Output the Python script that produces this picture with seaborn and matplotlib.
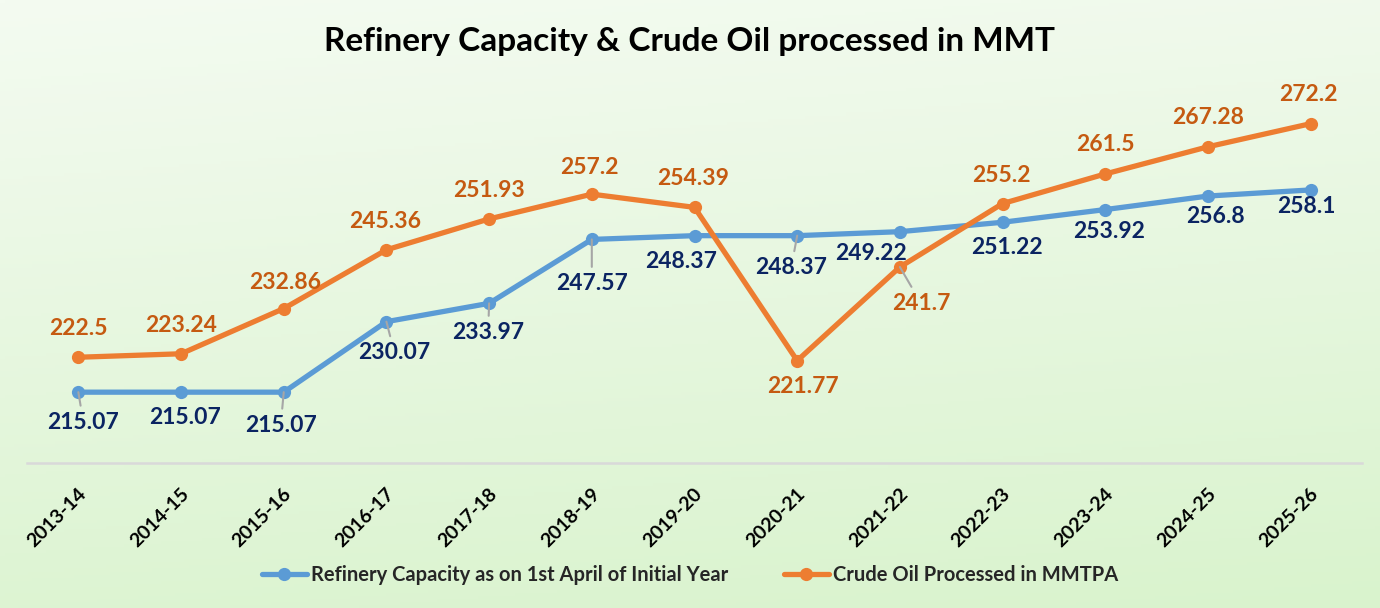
import matplotlib
matplotlib.use('Agg')
from matplotlib import pyplot as plt
from matplotlib.transforms import ScaledTranslation
import numpy as np
import pandas as pd
import seaborn as sns

years = ['2013-14', '2014-15', '2015-16', '2016-17', '2017-18', '2018-19', '2019-20',
         '2020-21', '2021-22', '2022-23', '2023-24', '2024-25', '2025-26']
capacity = [215.07, 215.07, 215.07, 230.07, 233.97, 247.57, 248.37,
            248.37, 249.22, 251.22, 253.92, 256.8, 258.1]
crude = [222.5, 223.24, 232.86, 245.36, 251.93, 257.2, 254.39,
         221.77, 241.7, 255.2, 261.5, 267.28, 272.2]
capacity_name = 'Refinery Capacity as on 1st April of Initial Year'
crude_name = 'Crude Oil Processed in MMTPA'

# label offsets in pixels (dx, dy; dy up is positive), and which labels get a leader line
cap_off = [(5, -30), (4, -25), (-3, -33), (8, -31), (-1, -29), (0, -44), (-13, -26),
           (-6, -32), (-29, -22), (4, -25), (4, -22), (7, -20), (-4, -17)]
cap_leader = [0, 2, 3, 4, 5, 7]
crude_off = [(0, 29), (0, 28), (1, 26), (-1, 28), (0, 28), (-2, 27), (-1, 29),
             (6, -26), (21, -36), (-1, 28), (0, 29), (0, 29), (-2, 29)]
crude_leader = [8]

BLUE = '#5B9BD5'
ORANGE = '#ED7D31'
BLUE_TXT = '#0B2462'
ORANGE_TXT = '#C55A11'

sns.set_style('white')
plt.rcParams['font.family'] = ['Lato', 'DejaVu Sans']
plt.rcParams['font.weight'] = 'bold'

fig = plt.figure(figsize=(13.8, 6.08), dpi=100)

# gradient background
bg = fig.add_axes([0, 0, 1, 1])
bg.set_zorder(0)
h, w = 200, 300
yy, xx = np.mgrid[0:1:complex(0, h), 0:1:complex(0, w)]
t = np.clip(0.85 * yy + 0.15 * xx, 0, 1)[..., None]
top = np.array([244, 251, 241]) / 255
bot = np.array([217, 243, 205]) / 255
bg.imshow(top * (1 - t) + bot * t, aspect='auto', extent=[0, 1, 0, 1])
bg.axis('off')

ax = fig.add_axes([27 / 1380, 1 - 463 / 608, (1362 - 27) / 1380, (463 - 87) / 608])
ax.set_zorder(1)
ax.patch.set_alpha(0)

df = pd.DataFrame({'year': years, 'capacity': capacity, 'crude': crude})
sns.lineplot(data=df, x='year', y='capacity', ax=ax, color=BLUE, lw=3.8, marker='o',
             markersize=9.5, markeredgewidth=0, label=capacity_name, sort=False)
sns.lineplot(data=df, x='year', y='crude', ax=ax, color=ORANGE, lw=3.8, marker='o',
             markersize=9.5, markeredgewidth=0, label=crude_name, sort=False)

ax.set_xlim(-0.5, len(years) - 0.5)
ax.set_ylim(200, 280)


def add_labels(vals, offs, leaders, color):
    for i, v in enumerate(vals):
        arrow = None
        if i in leaders:
            arrow = dict(arrowstyle='-', color='#A6A6A6', lw=1.5, shrinkA=2, shrinkB=0)
        ax.annotate('{:g}'.format(v), xy=(i, v), xytext=offs[i], textcoords='offset pixels',
                    ha='center', va='center', fontsize=16.5, fontweight='bold', color=color,
                    arrowprops=arrow, zorder=5)


add_labels(capacity, cap_off, cap_leader, BLUE_TXT)
add_labels(crude, crude_off, crude_leader, ORANGE_TXT)

ax.set_xlabel('')
ax.set_ylabel('')
ax.set_yticks([])
ax.set_xticks(range(len(years)))
ax.set_xticklabels(years, rotation=45, ha='right', va='center', rotation_mode='anchor',
                   fontsize=14, fontweight='bold', color='black')
ax.tick_params(axis='x', length=0, pad=20)
for lab in ax.get_xticklabels():
    lab.set_transform(lab.get_transform() + ScaledTranslation(0.05, 0, fig.dpi_scale_trans))
for s in ['top', 'left', 'right']:
    ax.spines[s].set_visible(False)
ax.spines['bottom'].set_color('#D9D9D9')
ax.spines['bottom'].set_linewidth(1.8)

ax.get_legend().remove()
handles, labels = ax.get_legend_handles_labels()
fig.legend(handles, labels, loc='center', bbox_to_anchor=(0.5, 1 - 575 / 608), ncol=2,
           frameon=False, handlelength=2.2, handletextpad=0.2, columnspacing=2.8,
           prop={'weight': 'bold', 'size': 14.5})

fig.text(0.5, 1 - 42 / 608, 'Refinery Capacity & Crude Oil processed in MMT', ha='center',
         va='center', fontsize=24, fontweight='bold', color='black')

fig.savefig('out.png', dpi=100)
